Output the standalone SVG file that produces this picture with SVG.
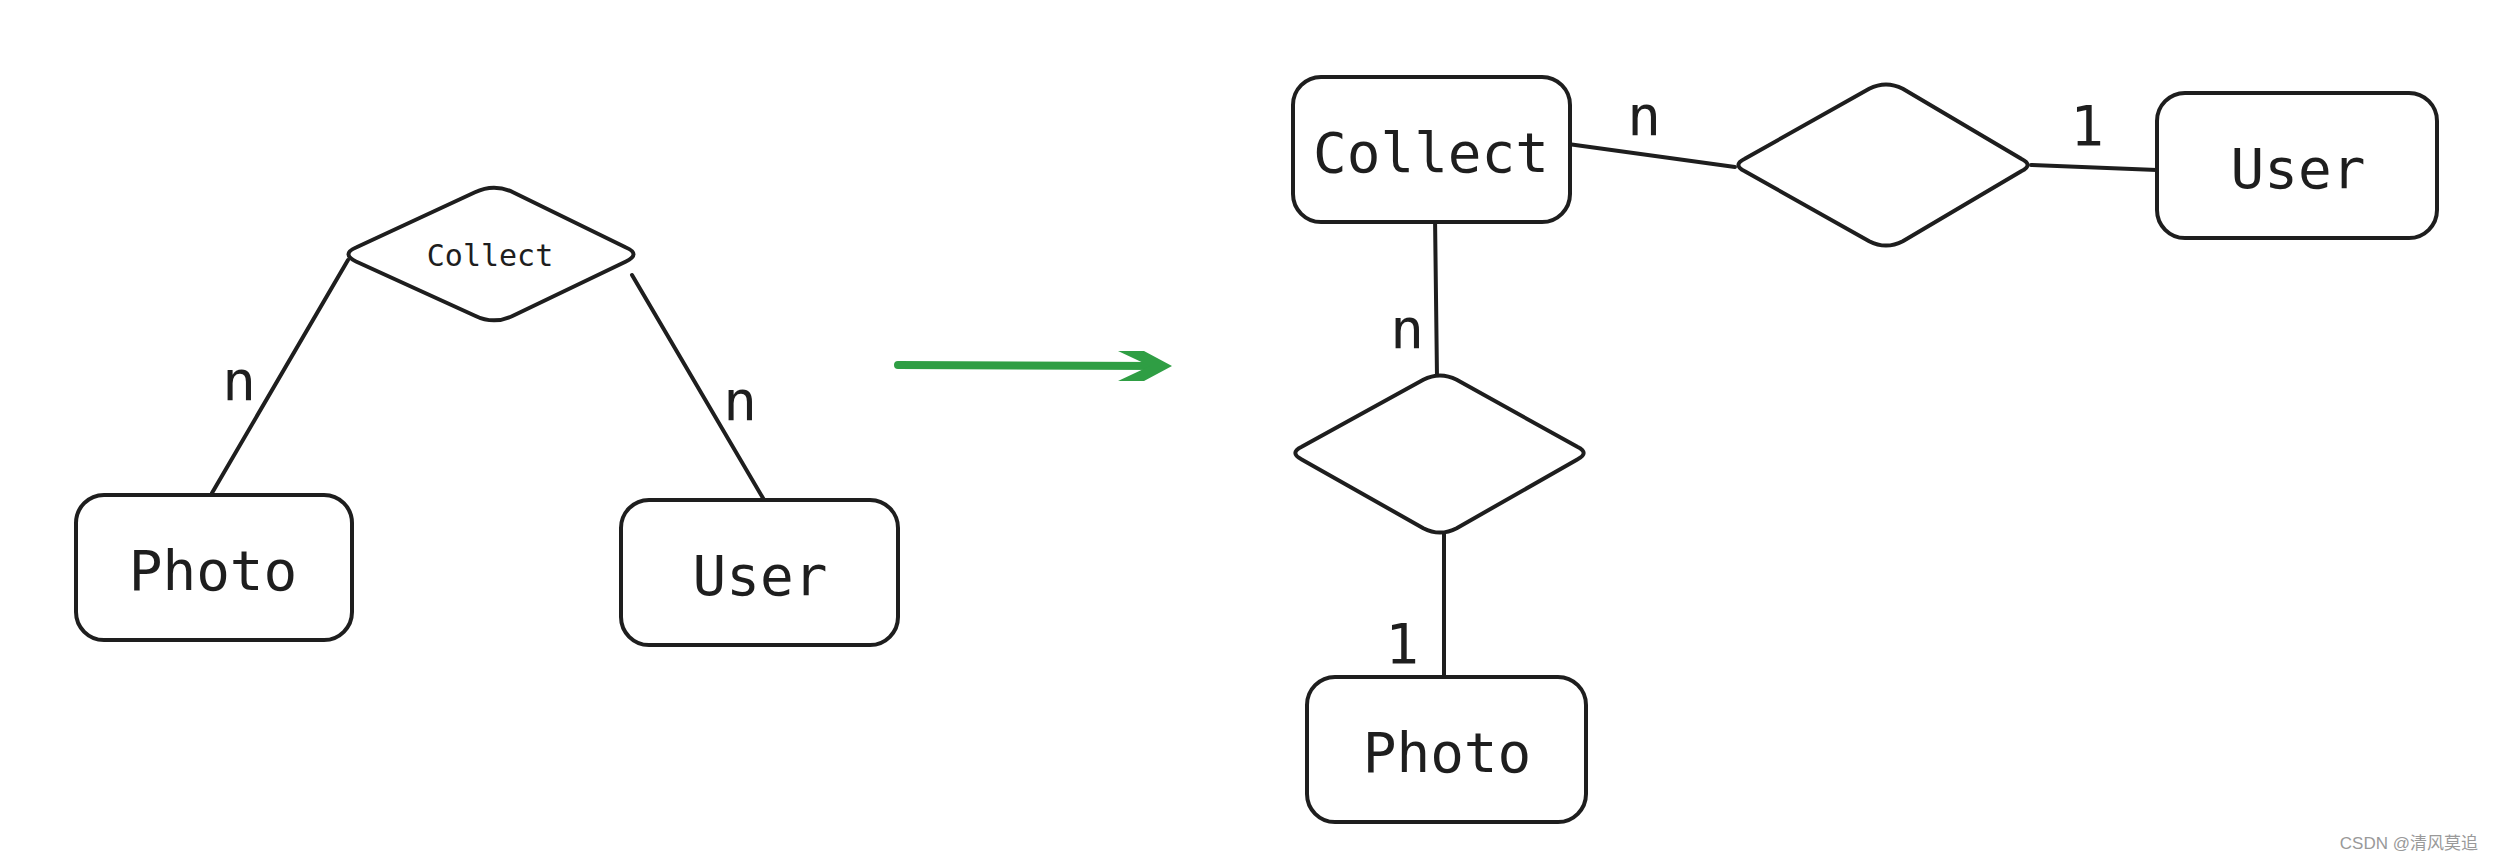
<svg xmlns="http://www.w3.org/2000/svg" width="2494" height="862" viewBox="0 0 2494 862">
<style>
.box{fill:#fff;stroke:#1e1e1e;stroke-width:4}
.dia{fill:#fff;stroke:#1e1e1e;stroke-width:4;stroke-linejoin:round}
.ln{stroke:#1e1e1e;stroke-width:4;stroke-linecap:round;fill:none}
.t{font-family:"DejaVu Sans Mono","Liberation Mono",monospace;fill:#1e1e1e;text-anchor:middle}
.big{font-size:56px}
.sm{font-size:30px}
</style>
<rect width="2494" height="862" fill="#fff"/>
<g id="connectors">
<line class="ln" x1="348" y1="260" x2="212" y2="493"/>
<line class="ln" x1="632" y1="275" x2="767" y2="505"/>
<line class="ln" x1="1568" y1="144" x2="1735" y2="167"/>
<line class="ln" x1="2031" y1="165" x2="2157" y2="170"/>
<line class="ln" x1="1435" y1="216" x2="1437" y2="377"/>
<line class="ln" x1="1444" y1="528" x2="1444" y2="678"/>
<g id="arrow">
<line x1="898" y1="365" x2="1160" y2="366" stroke="#2f9e44" stroke-width="8" stroke-linecap="round"/>
<polygon points="1118,351 1144,351 1172,366 1144,381 1118,381 1150,366" fill="#2f9e44"/>
</g>
</g>
<g id="left-collect">
<path class="dia" d="M 356,247.5 L 475,192.3 Q 494,183 513,192.3 L 626,247.5 Q 641,254 626,261.5 L 513,315.7 Q 494,325 475,315.7 L 356,261.5 Q 341,254 356,247.5 Z"/>
<text class="t sm" x="490" y="266">Collect</text>
</g>
<g id="left-photo">
<rect class="box" x="76" y="495" width="276" height="145" rx="28"/>
<text class="t big" x="213" y="590">Photo</text>
</g>
<g id="left-user">
<rect class="box" x="621" y="500" width="277" height="145" rx="28"/>
<text class="t big" x="760" y="595">User</text>
</g>
<g id="left-labels">
<text class="t big" x="239" y="400">n</text>
<text class="t big" x="740" y="420">n</text>
</g>
<g id="right-collect">
<rect class="box" x="1293" y="77" width="277" height="145" rx="28"/>
<text class="t big" x="1431" y="172">Collect</text>
</g>
<g id="right-rel1">
<path class="dia" d="M 1744.8,158.7 L 1869.2,88.8 Q 1886,80 1902.8,88.8 L 2021.2,158.7 Q 2034,165 2021.2,171.3 L 1902.8,241.2 Q 1886,250 1869.2,241.2 L 1744.8,171.3 Q 1732,165 1744.8,158.7 Z"/>
</g>
<g id="right-user">
<rect class="box" x="2157" y="93" width="280" height="145" rx="28"/>
<text class="t big" x="2298" y="188">User</text>
</g>
<g id="right-rel2">
<path class="dia" d="M 1301.7,446.8 L 1423.3,379.8 Q 1440,371 1456.7,379.8 L 1577.3,446.8 Q 1590,453 1577.3,459.5 L 1456.7,528.2 Q 1440,537 1423.3,528.2 L 1301.7,459.5 Q 1289,453 1301.7,446.8 Z"/>
</g>
<g id="right-photo">
<rect class="box" x="1307" y="677" width="279" height="145" rx="28"/>
<text class="t big" x="1447" y="772">Photo</text>
</g>
<g id="right-labels">
<text class="t big" x="1644" y="135">n</text>
<text class="t big" x="2087" y="145">1</text>
<text class="t big" x="1407" y="348">n</text>
<text class="t big" x="1402" y="663">1</text>
</g>
<text x="2478" y="849" text-anchor="end" font-family="'Liberation Sans','Noto Sans CJK SC',sans-serif" font-size="17" fill="#999">CSDN @清风莫追</text>
</svg>
